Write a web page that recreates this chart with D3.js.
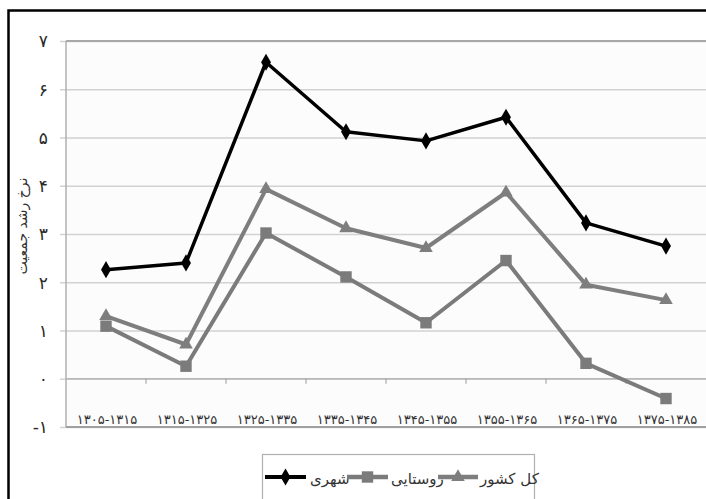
<!DOCTYPE html>
<html>
<head>
<meta charset="utf-8">
<script src="https://cdn.jsdelivr.net/npm/d3@7"></script>
<style>
  html, body { margin: 0; padding: 0; background: #fff; }
  svg { display: block; }
  text { font-family: "DejaVu Sans", "Noto Sans", sans-serif; fill: #222; }
</style>
</head>
<body>
<svg id="chart" width="706" height="499"></svg>
<script>
// Population growth rate by decade (Iranian calendar periods)
const periods = ["۱۳۰۵-۱۳۱۵", "۱۳۱۵-۱۳۲۵", "۱۳۲۵-۱۳۳۵", "۱۳۳۵-۱۳۴۵",
                 "۱۳۴۵-۱۳۵۵", "۱۳۵۵-۱۳۶۵", "۱۳۶۵-۱۳۷۵", "۱۳۷۵-۱۳۸۵"];
const urban = [2.26, 2.40, 6.56, 5.12, 4.93, 5.42, 3.23, 2.75];
const rural = [1.09, 0.26, 3.02, 2.11, 1.16, 2.45, 0.32, -0.41];
const national = [1.30, 0.71, 3.93, 3.12, 2.71, 3.86, 1.95, 1.63];
const yTicks = [-1, 0, 1, 2, 3, 4, 5, 6, 7];
const seriesNames = ["شهری", "روستایی", "کل کشور"];
const yTitle = "نرخ رشد جمعیت";

const faDigits = "۰۱۲۳۴۵۶۷۸۹";
const toFa = v => (v < 0 ? "-" : "") + String(Math.abs(v)).replace(/\d/g, c => faDigits[+c]);

const svg = d3.select("#chart");

// outer black frame
svg.append("rect")
  .attr("x", 8.5).attr("y", 10.5).attr("width", 740).attr("height", 540)
  .attr("fill", "none").attr("stroke", "#000").attr("stroke-width", 2.5);

const plotLeft = 66, plotRight = 706, plotTop = 41, plotBottom = 427;

const x = d3.scaleBand().domain(periods).range([plotLeft, plotRight]).padding(0);
const y = d3.scaleLinear().domain([-1, 7]).range([plotBottom, plotTop]);
const cx = d => x(d) + x.bandwidth() / 2;

// plot background
svg.append("rect")
  .attr("x", plotLeft).attr("y", plotTop)
  .attr("width", plotRight - plotLeft).attr("height", plotBottom - plotTop)
  .attr("fill", "#fcfcfc");

// horizontal gridlines with outward ticks
const yAxis = svg.append("g")
  .attr("transform", `translate(${plotLeft},0)`)
  .call(d3.axisLeft(y).tickValues(yTicks).tickSize(-(plotRight - plotLeft)).tickFormat(""));
yAxis.select(".domain").remove();
yAxis.selectAll(".tick line")
  .attr("x1", -6)
  .attr("stroke", "#d2d2d2").attr("stroke-width", 1.5);

// y tick labels
svg.append("g").selectAll("text")
  .data(yTicks).join("text")
  .attr("x", 48).attr("y", d => y(d))
  .attr("dy", "0.38em")
  .attr("text-anchor", "end")
  .style("font-size", "17px")
  .style("fill", "#2a2a2a")
  .text(toFa);

// plot border: top, left, bottom
svg.append("line").attr("x1", plotLeft).attr("x2", plotRight).attr("y1", plotTop).attr("y2", plotTop)
  .attr("stroke", "#a8a8a8").attr("stroke-width", 2);
svg.append("line").attr("x1", plotLeft).attr("x2", plotLeft).attr("y1", plotTop).attr("y2", plotBottom)
  .attr("stroke", "#b0b0b0").attr("stroke-width", 1.5);
svg.append("line").attr("x1", plotLeft).attr("x2", plotRight).attr("y1", plotBottom).attr("y2", plotBottom)
  .attr("stroke", "#a0a0a0").attr("stroke-width", 2);

// category axis on the zero line, ticks between categories
svg.append("line").attr("x1", plotLeft).attr("x2", plotRight).attr("y1", y(0)).attr("y2", y(0))
  .attr("stroke", "#b8b8b8").attr("stroke-width", 1.5);
svg.append("g").selectAll("line")
  .data(periods.slice(1)).join("line")
  .attr("x1", d => x(d)).attr("x2", d => x(d))
  .attr("y1", y(0)).attr("y2", y(0) + 5)
  .attr("stroke", "#999").attr("stroke-width", 1);

// category labels along the bottom of the plot
svg.append("g").selectAll("text")
  .data(periods).join("text")
  .attr("x", d => cx(d) + 1).attr("y", plotBottom - 3)
  .attr("text-anchor", "middle")
  .style("font-size", "13px")
  .style("fill", "#333")
  .text(d => d);

// y axis title
svg.append("text")
  .attr("transform", `translate(22,${(plotTop + plotBottom) / 2 - 8}) rotate(-90)`)
  .attr("text-anchor", "middle")
  .attr("dy", "0.35em")
  .style("font-size", "14px")
  .style("fill", "#333")
  .text(yTitle);

const line = d3.line().x((d, i) => cx(periods[i])).y(d => y(d));

const symDiamond = d3.symbol().type(d3.symbolDiamond).size(85);
const symSquare = d3.symbol().type(d3.symbolSquare).size(130);
const symTriangle = d3.symbol().type(d3.symbolTriangle).size(80);

const series = [
  { name: seriesNames[0], values: urban, color: "#000", width: 3.5, sym: symDiamond },
  { name: seriesNames[1], values: rural, color: "#7b7b7b", width: 4, sym: symSquare },
  { name: seriesNames[2], values: national, color: "#7e7e7e", width: 4, sym: symTriangle }
];

series.forEach(s => {
  svg.append("path")
    .datum(s.values)
    .attr("d", line)
    .attr("fill", "none")
    .attr("stroke", s.color)
    .attr("stroke-width", s.width)
    .attr("stroke-linejoin", "round");
  svg.append("g").selectAll("path")
    .data(s.values).join("path")
    .attr("transform", (d, i) => `translate(${cx(periods[i])},${y(d)})`)
    .attr("d", s.sym())
    .attr("fill", s.color);
});

// legend
const legend = svg.append("g");
legend.append("rect")
  .attr("x", 262.5).attr("y", 454.5).attr("width", 272).attr("height", 70)
  .attr("fill", "#fff").attr("stroke", "#b0b0b0").attr("stroke-width", 1.2);

const legendItems = [
  { s: series[0], x0: 265, x1: 306, tx: 310 },
  { s: series[1], x0: 347, x1: 388, tx: 391 },
  { s: series[2], x0: 438, x1: 478, tx: 480 }
];
const ly = 477;
legendItems.forEach(it => {
  legend.append("line")
    .attr("x1", it.x0).attr("x2", it.x1).attr("y1", ly).attr("y2", ly)
    .attr("stroke", it.s.color).attr("stroke-width", it.s.width + 0.5);
  legend.append("path")
    .attr("transform", `translate(${(it.x0 + it.x1) / 2},${ly})`)
    .attr("d", it.s.sym())
    .attr("fill", it.s.color);
  legend.append("text")
    .attr("x", it.tx).attr("y", ly + 2)
    .attr("dy", "0.35em")
    .style("font-size", "15px")
    .style("fill", "#333")
    .text(it.s.name);
});
</script>
</body>
</html>
